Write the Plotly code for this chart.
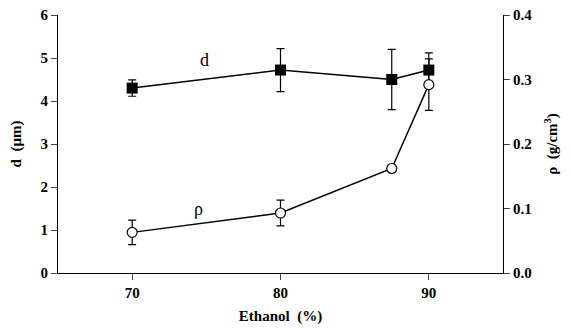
import plotly.graph_objects as go

ethanol = [70, 80, 87.5, 90]
d_vals = [4.3, 4.72, 4.5, 4.72]
d_err = [0.19, 0.5, 0.7, 0.4]
rho_vals = [0.063, 0.093, 0.162, 0.292]
rho_err = [0.019, 0.02, 0.0, 0.04]

x_ticks = [70, 80, 90]
y_ticks = [0, 1, 2, 3, 4, 5, 6]
y2_ticks = [0.0, 0.1, 0.2, 0.3, 0.4]

serif = "Liberation Serif, Times New Roman, serif"
tickfont = dict(family=serif, size=15, color="black", weight="bold")
titlefont = dict(family=serif, size=15, color="black", weight="bold")

fig = go.Figure()
fig.add_trace(go.Scatter(
    x=ethanol, y=d_vals, mode="lines+markers",
    line=dict(color="black", width=1.5),
    marker=dict(symbol="square", size=11, color="black"),
    error_y=dict(type="data", array=d_err, color="black", thickness=1.2, width=4),
    showlegend=False, yaxis="y"))
fig.add_trace(go.Scatter(
    x=ethanol, y=rho_vals, mode="lines+markers",
    line=dict(color="black", width=1.5),
    marker=dict(symbol="circle", size=10, color="white", line=dict(color="black", width=1.2)),
    error_y=dict(type="data", array=rho_err, color="black", thickness=1.2, width=4),
    showlegend=False, yaxis="y2"))

fig.add_annotation(x=74.9, y=4.95, text="d", showarrow=False, yref="y",
                   font=dict(family=serif, size=18, color="black"))
fig.add_annotation(x=74.5, y=1.5, text="ρ", showarrow=False, yref="y",
                   font=dict(family=serif, size=18, color="black"))

axis_common = dict(ticks="outside", ticklen=6, showline=True, linecolor="black",
                   linewidth=1, showgrid=False, zeroline=False, tickfont=tickfont,
                   automargin=False, ticklabeloverflow="allow")

# page body has an 8px default margin, so the figure is sized/offset to compensate
fig.update_layout(
    width=563, height=320,
    margin=dict(l=50, r=68, t=7, b=55),
    plot_bgcolor="white", paper_bgcolor="white",
    xaxis=dict(range=[65, 95], tickvals=x_ticks, **axis_common,
               title=dict(text="Ethanol  (%)", font=titlefont, standoff=10)),
    yaxis=dict(range=[0, 6], tickvals=y_ticks, **axis_common,
               title=dict(text="d  (μm)", font=titlefont, standoff=20)),
    yaxis2=dict(range=[0, 0.4], tickvals=y2_ticks, tickformat=".1f", overlaying="y",
                side="right", **axis_common,
                title=dict(text="ρ  (g/cm<sup>3</sup>)", font=titlefont, standoff=15)),
)

fig.write_html("out.html")
